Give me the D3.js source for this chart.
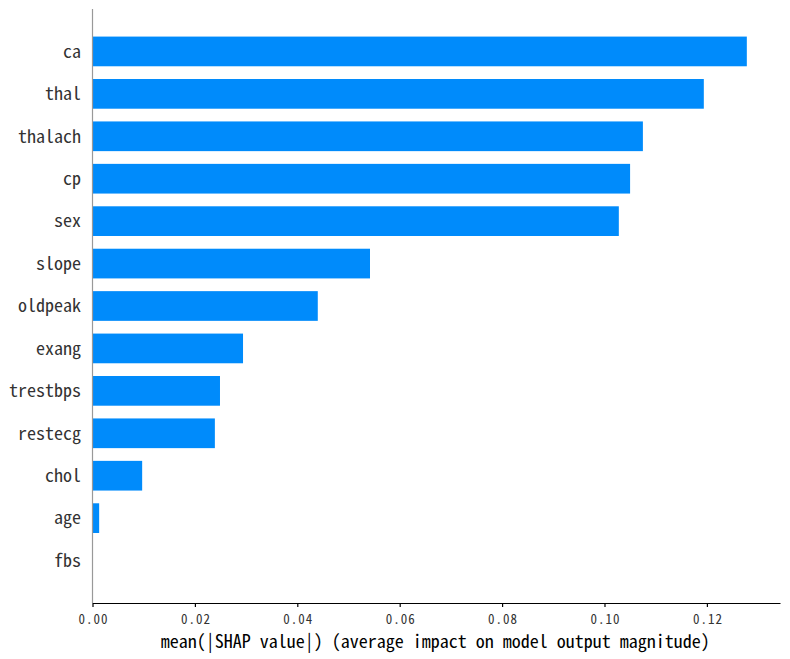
<!DOCTYPE html>
<html>
<head>
<meta charset="utf-8">
<script src="https://cdn.jsdelivr.net/npm/d3@7"></script>
<style>
  html, body { margin: 0; padding: 0; background: #fff; }
  svg text { font-family: "Noto Sans Mono CJK SC", "Noto Sans CJK SC", "DejaVu Sans Mono", monospace; }
</style>
</head>
<body>
<svg id="chart" width="790" height="659"></svg>
<script>
const features = ["ca", "thal", "thalach", "cp", "sex", "slope", "oldpeak", "exang", "trestbps", "restecg", "chol", "age", "fbs"];
const meanAbsShap = [0.1278, 0.1194, 0.1075, 0.1050, 0.1028, 0.0542, 0.0440, 0.0294, 0.0249, 0.0239, 0.0097, 0.0013, 0.0];
const xTicks = [0.00, 0.02, 0.04, 0.06, 0.08, 0.10, 0.12];
const xLabel = "mean(|SHAP value|) (average impact on model output magnitude)";

const svg = d3.select("#chart");
const mLeft = 92.5, mRight = 780, mTop = 9, mBottom = 603;

const x = d3.scaleLinear().domain([0, 0.13428]).range([mLeft, mRight]);
const y = d3.scaleLinear().domain([-1, features.length]).range([mTop, mBottom]);
const barH = (y(1) - y(0)) * 0.7;

// bars
svg.append("g").selectAll("rect")
  .data(features)
  .join("rect")
  .attr("x", x(0))
  .attr("y", (d, i) => y(i) - barH / 2)
  .attr("width", (d, i) => x(meanAbsShap[i]) - x(0))
  .attr("height", barH)
  .attr("fill", "#008bfb");

// grey vertical line at zero
svg.append("line")
  .attr("x1", x(0)).attr("x2", x(0))
  .attr("y1", mTop).attr("y2", mBottom)
  .attr("stroke", "#999999").attr("stroke-width", 1.2);

// x axis
const xAxis = d3.axisBottom(x).tickValues(xTicks).tickFormat(d3.format(".2f")).tickSize(4).tickSizeOuter(0);
const gx = svg.append("g").attr("transform", `translate(0,${mBottom})`).call(xAxis);
gx.attr("font-family", null);
gx.select(".domain").attr("stroke", "#000").attr("stroke-width", 1.2);
gx.selectAll(".tick line").attr("stroke", "#000").attr("stroke-width", 1.2);
gx.selectAll(".tick text")
  .attr("fill", "#333")
  .style("font-size", "13px")
  .style("letter-spacing", "1px")
  .attr("dx", "0.5px")
  .attr("dy", null)
  .attr("y", 20.5);

// y labels
svg.append("g").selectAll("text")
  .data(features)
  .join("text")
  .attr("x", 81)
  .attr("y", (d, i) => y(i))
  .attr("dy", "0.35em")
  .attr("text-anchor", "end")
  .attr("font-size", "18px")
  .attr("fill", "#333")
  .text(d => d);

// x label
svg.append("text")
  .attr("x", (mLeft + mRight) / 2 - 1)
  .attr("y", 647.5)
  .attr("text-anchor", "middle")
  .attr("font-size", "18px")
  .attr("fill", "#000")
  .text(xLabel);
</script>
</body>
</html>
